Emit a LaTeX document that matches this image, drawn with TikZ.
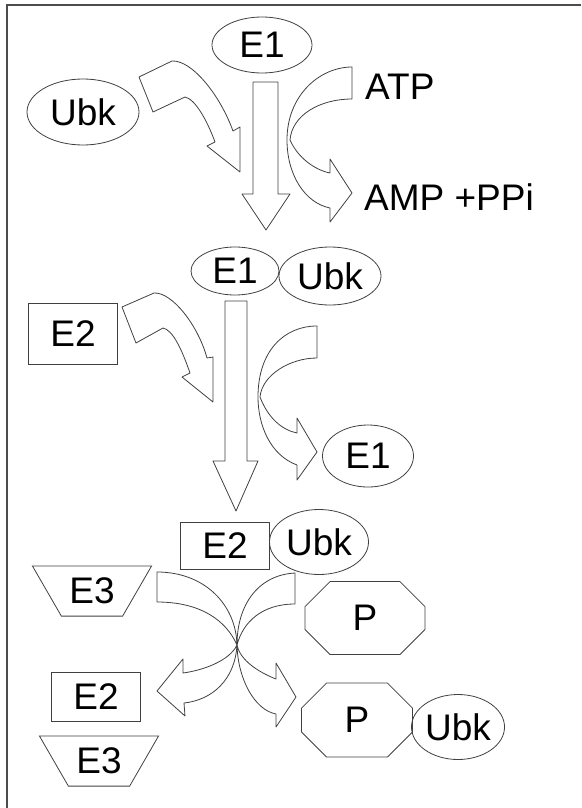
\documentclass[tikz,border=0pt]{standalone}
\usepackage{fontspec}
\setmainfont{Liberation Sans}
\usetikzlibrary{shapes.geometric,shapes.misc}

\tikzset{
  lbl/.style={font=\fontsize{37}{40}\selectfont, inner sep=0pt, line width=0.8pt, draw=black!75},
  enz/.style={lbl, ellipse},
  box/.style={lbl, rectangle},
  cup/.style={lbl, trapezium, trapezium angle=60, shape border rotate=180, inner xsep=8pt, inner ysep=12pt},
  prot/.style={lbl, chamfered rectangle, chamfered rectangle xsep=17pt, chamfered rectangle ysep=17pt},
  txt/.style={font=\fontsize{37}{40}\selectfont, inner sep=0pt},
  blk/.style={draw=black!75, line width=0.8pt, line join=round},
}

\begin{document}
\begin{tikzpicture}[x=1pt,y=-1pt]
    \useasboundingbox (0,0) rectangle (581,808);
    \draw[line width=2pt, black!70] (7,808) -- (7,5) -- (581,5);

    % first step
    \node[enz, minimum width=100, minimum height=56] (e1) at (262,45) {E1};
    \node[enz, minimum width=112, minimum height=66] (ubk) at (83,112) {Ubk};
    \node[txt, anchor=base west] (atp) at (365,99) {ATP};
    \node[txt, anchor=base west] (amp) at (364,210) {AMP +PPi};
    \draw[blk] (253,82) -- (278,82) -- (278,194) -- (290,194) -- (266,230) -- (242,194) -- (253,194) -- cycle;
    \draw[blk] (139,77) -- (172,61) .. controls (192,60) and (220,95) .. (233,131) -- (240,127) -- (240,172)
        -- (207,146) -- (215,142) .. controls (207,120) and (195,99) .. (185,97) -- (153,112) -- cycle;
    \draw[blk] (352,67) -- (352,99) .. controls (320,99) and (292,115) .. (290,140)
        .. controls (298,158) and (315,170) .. (330,173) -- (330,159) -- (352,193) -- (330,222) -- (330,208)
        .. controls (305,203) and (287,175) .. (287,140) .. controls (287,95) and (320,67) .. (352,67) -- cycle;

    % second step
    \node[enz, minimum width=88, minimum height=48] (e1b) at (235,271) {E1};
    \node[enz, minimum width=102, minimum height=58] (ubkb) at (330,276) {Ubk};
    \node[box, minimum width=89, minimum height=61] (e2) at (73,334) {E2};
    \node[enz, minimum width=91, minimum height=62] (e1c) at (368,456) {E1};
    \draw[blk] (225,301) -- (247,301) -- (247,461) -- (258,461) -- (236,511) -- (213,461) -- (225,461) -- cycle;
    \draw[blk] (122,307) -- (154,293) .. controls (172,292) and (198,325) .. (207,358) -- (213,357) -- (213,402)
        -- (182,377) -- (190,373) .. controls (182,350) and (173,330) .. (163,328) -- (136,343) -- cycle;
    \draw[blk] (317,326) -- (317,358) .. controls (290,358) and (262,375) .. (260,397)
        .. controls (268,418) and (282,430) .. (297,433) -- (297,418) -- (317,452) -- (297,480) -- (297,465)
        .. controls (270,455) and (258,425) .. (258,397) .. controls (258,350) and (285,326) .. (317,326) -- cycle;

    % third step
    \node[box, minimum width=89, minimum height=47] (e2b) at (225,546) {E2};
    \node[enz, minimum width=99, minimum height=65] (ubkc) at (319,542) {Ubk};
    \node[cup] (e3) at (92,591) {E3};
    \node[prot, minimum width=120, minimum height=73] (p) at (365,618) {P};
    \node[box, minimum width=89, minimum height=49] (e2c) at (96,697) {E2};
    \node[cup] (e3b) at (99,761) {E3};
    \node[prot, minimum width=111, minimum height=74] (pb) at (357,720) {P};
    \node[enz, minimum width=90, minimum height=65] (ubkd) at (458,727) {Ubk};
    \draw[blk] (157,572) .. controls (205,572) and (236,605) .. (237,645) .. controls (238,680) and (255,710) .. (276,714)
        -- (276,727) -- (296,697) -- (276,663) -- (276,679) .. controls (258,672) and (240,660) .. (237,645)
        .. controls (226,620) and (200,602) .. (157,602) -- cycle;
    \draw[blk] (295,573) .. controls (258,575) and (237,605) .. (237,645) .. controls (235,680) and (212,700) .. (184,703)
        -- (185,716) -- (157,691) -- (183,659) -- (183,673) .. controls (205,670) and (230,660) .. (237,645)
        .. controls (243,622) and (262,604) .. (295,604) -- cycle;
\end{tikzpicture}
\end{document}
